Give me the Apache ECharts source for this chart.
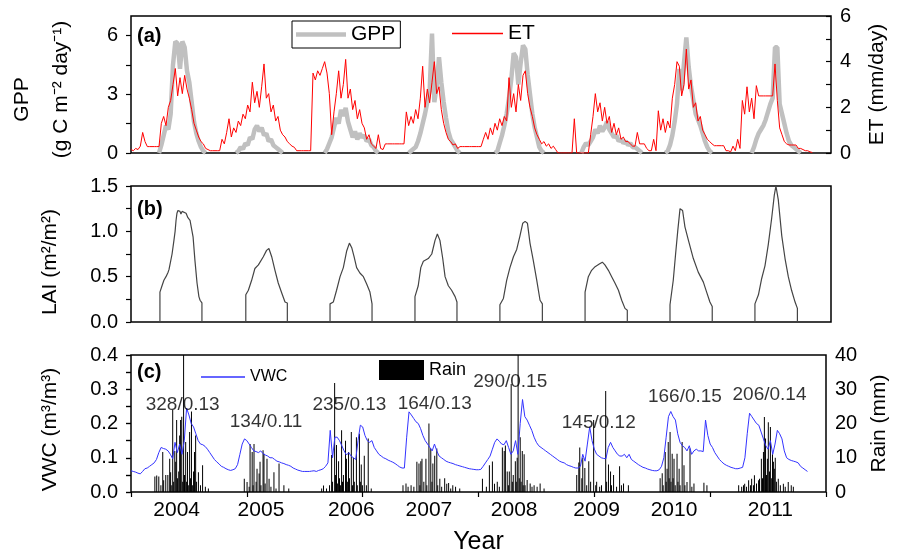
<!DOCTYPE html>
<html><head><meta charset="utf-8">
<script src="https://cdn.jsdelivr.net/npm/echarts@6.0.0/dist/echarts.min.js"></script>
<style>html,body{margin:0;padding:0;background:#fff}#c{width:898px;height:558px}</style>
</head><body><div id="c"></div>
<script>
// x unit: days since the start of the record (axis 0..3000)
const dayStep = 10;
const yearLabels = ['2004','2005','2006','2007','2008','2009','2010','2011'];
const yearLabelDays = [197, 561, 951, 1286, 1654, 2010, 2344, 2760];

// GPP (g C m-2 day-1), one value every 10 days
const gpp = [
null,null,null,null,null,null,null,null,null,null,
null,null,0,0.4,0.9,1.4,1.2,2.0,4.5,5.7,
5.6,4.3,5.7,5.4,4.2,3.6,2.6,1.6,1.0,0.6,
0.3,0.1,0,null,null,null,null,null,null,null,
null,null,null,null,null,0,0.1,0.3,0.2,0.5,
0.4,0.8,0.7,1.2,1.4,1.1,1.3,0.9,1.0,0.6,
0.7,0.4,0.3,0.2,0.1,0,null,null,null,null,
null,null,null,null,null,null,null,null,null,null,
null,null,null,0,0.2,0.5,0.8,1.3,1.8,1.5,
2.2,1.9,2.3,1.6,1.2,0.8,1.1,0.7,1.0,0.8,
0.9,0.6,0.7,0.4,0.3,0.1,0,null,null,null,
null,null,null,null,null,null,null,null,null,0,
0.1,0.2,0.3,0.6,1.0,1.5,2.0,2.6,3.2,6.1,
2.6,3.4,4.9,3.6,2.6,1.8,1.1,0.7,0.5,0.3,
0.1,0,null,null,null,null,null,null,null,null,
null,null,null,null,null,null,0,0.1,0.5,0.9,
1.4,2.0,2.8,3.8,5.1,4.9,3.5,4.6,5.5,5.3,
4.0,3.0,2.0,1.3,0.8,0.3,0.1,0,null,null,
null,null,null,null,null,null,null,null,null,null,
null,null,null,0,0.3,0.5,0.4,0.6,0.8,1.2,
1.0,1.4,1.1,1.3,1.6,1.2,1.0,0.8,0.9,0.6,
0.7,0.5,0.6,0.4,0.5,0.3,0.3,0.2,0.1,0,
null,null,null,null,null,null,null,null,null,0,
0.1,0.4,0.9,1.6,2.5,4.3,3.2,4.6,5.9,4.4,
3.4,2.7,2.0,1.7,1.4,1.0,0.6,0.3,0.1,0,
null,null,null,null,null,null,null,null,null,null,
null,null,null,null,null,null,0,0.3,0.7,1.0,
1.2,1.4,1.7,2.1,2.5,2.8,5.4,5.4,2.5,2.0,
1.5,1.0,0.6,0.4,0.3,0.2,0.1,0,null,null,
null,null,null,null,null,null,null,null,null,null,
null];

// ET (mm/day), one value every 10 days
const et = [
0.15,0.1,0.2,0.15,0.3,0.9,0.5,0.28,0.28,0.28,
0.28,0.28,0.28,1.3,1.6,1.2,2.0,2.3,3.0,3.7,
2.5,3.3,2.6,3.4,2.8,2.4,1.9,1.3,1.0,0.7,
0.5,0.4,0.2,0.15,0.1,0.1,0.1,0.1,0.1,0.6,
0.4,0.9,1.5,0.7,1.1,0.9,1.4,1.2,1.7,1.5,
2.1,1.8,3.1,2.2,2.7,2.0,2.9,3.9,2.4,2.6,
1.8,2.1,1.4,1.6,1.0,0.8,0.7,0.5,0.4,0.3,
0.25,0.1,0.1,0.1,0.1,0.1,0.1,0.1,3.5,3.2,
3.6,3.4,3.7,4.0,3.5,2.6,0.8,1.8,2.6,3.6,
2.4,3.0,4.1,2.4,2.8,1.9,2.3,1.5,1.9,1.3,
1.1,0.6,0.8,0.4,0.3,0.2,0.8,0.2,0.15,0.4,
0.4,0.4,0.4,0.4,0.4,0.4,0.4,0.4,1.8,1.2,
1.6,1.3,1.9,1.5,2.4,3.8,2.0,2.8,2.2,3.1,
4.0,2.6,2.9,1.9,1.3,0.9,0.6,0.5,0.35,0.4,
0.2,0.28,0.28,0.28,0.28,0.28,0.28,0.28,0.28,0.28,
0.28,0.6,0.9,0.6,1.1,0.8,1.3,1.0,1.5,1.2,
1.6,1.4,3.3,2.0,2.6,1.8,3.0,2.3,3.4,3.6,
2.6,2.0,1.6,1.1,0.8,0.6,0.4,0.5,0.3,0.4,
0.2,0.3,0.15,0,0,0,0,0,0,0,
1.5,0,0,0,0,0,0,0.8,1.6,2.6,
1.8,2.2,1.4,2.0,1.3,1.6,0.9,1.3,0.8,1.1,
0.6,0.7,0.5,0.5,0.4,0.3,0.3,0.9,0.4,0.4,
0.4,0.2,0.1,0.1,0.6,0.1,1.85,1.0,1.5,0.9,
1.4,1.1,2.4,3.0,4.0,3.8,2.5,3.0,4.55,2.8,
3.2,2.0,2.2,1.4,1.6,1.0,0.8,0.6,0.5,0.4,
0.32,0.32,0.32,0.32,0.32,0.1,0.1,0.05,0.3,0.1,
0.6,0.2,2.3,1.7,2.9,1.8,2.4,1.5,2.95,2.5,
2.5,2.5,2.5,2.5,2.5,2.5,3.9,2.3,1.1,0.8,
0.5,0.4,0.35,0.35,0.35,0.35,0.2,0.2,0.15,0.1,
0.1,0.05,0.02,null,null,null,null,null,null,null,
null];

// LAI (m2/m2): [day, value]
const lai = [
[124,0],[124,0.33],[133,0.4],[141,0.46],[150,0.5],[159,0.55],[163,0.58],[167,0.6],[176,0.75],[184,0.9],[189,1.0],[193,1.12],[197,1.2],[201,1.23],[206,1.22],[210,1.22],[214,1.19],[219,1.22],[227,1.23],[236,1.2],[244,1.15],[253,1.12],[266,0.94],[274,0.68],[283,0.43],[291,0.28],[296,0.24],[304,0.21],[304,0],
[492,0],[492,0.3],[503,0.35],[517,0.46],[531,0.59],[546,0.63],[567,0.72],[581,0.79],[591,0.81],[603,0.72],[617,0.57],[631,0.43],[646,0.32],[660,0.22],[670,0.21],[670,0],
[853,0],[853,0.2],[867,0.22],[881,0.35],[896,0.5],[910,0.6],[924,0.78],[936,0.87],[946,0.82],[956,0.72],[967,0.6],[981,0.54],[996,0.5],[1010,0.42],[1024,0.33],[1033,0.2],[1033,0],
[1217,0],[1217,0.28],[1231,0.4],[1242,0.6],[1253,0.67],[1274,0.7],[1289,0.75],[1303,0.9],[1313,0.97],[1324,0.9],[1336,0.7],[1346,0.5],[1360,0.4],[1374,0.35],[1389,0.28],[1397,0.22],[1397,0],
[1581,0],[1581,0.19],[1596,0.26],[1610,0.46],[1624,0.6],[1639,0.72],[1653,0.8],[1667,0.95],[1679,1.09],[1689,1.11],[1699,1.09],[1710,0.87],[1724,0.68],[1739,0.46],[1753,0.24],[1763,0.2],[1763,0],
[1946,0],[1946,0.33],[1960,0.5],[1974,0.57],[1989,0.61],[2007,0.64],[2020,0.66],[2031,0.63],[2046,0.57],[2060,0.5],[2074,0.43],[2089,0.35],[2103,0.24],[2117,0.15],[2127,0.13],[2127,0],
[2310,0],[2310,0.19],[2324,0.46],[2334,0.75],[2343,1.0],[2353,1.25],[2364,1.23],[2374,1.05],[2389,0.9],[2410,0.7],[2431,0.55],[2453,0.44],[2467,0.33],[2481,0.22],[2491,0.17],[2491,0],
[2674,0],[2674,0.2],[2689,0.3],[2703,0.48],[2717,0.62],[2731,0.85],[2746,1.15],[2757,1.4],[2764,1.5],[2774,1.35],[2789,0.95],[2803,0.7],[2817,0.5],[2831,0.35],[2846,0.22],[2856,0.15],[2856,0]
];

// VWC (m3/m3), one value every 10 days
const vwc = [
0.062,0.06,0.058,0.055,0.053,0.06,0.068,0.07,0.075,0.08,
0.085,0.095,0.115,0.13,0.127,0.125,0.12,0.11,0.097,0.145,
0.115,0.14,0.11,0.15,0.245,0.225,0.2,0.19,0.17,0.15,
0.14,0.138,0.133,0.125,0.115,0.105,0.095,0.088,0.082,0.075,
0.072,0.068,0.065,0.063,0.065,0.068,0.08,0.11,0.14,0.155,
0.15,0.14,0.13,0.12,0.118,0.115,0.12,0.112,0.108,0.105,
0.1,0.1,0.095,0.09,0.088,0.085,0.083,0.08,0.078,0.075,
0.07,0.067,0.064,0.062,0.06,0.06,0.06,0.06,0.061,0.062,
0.06,0.063,0.065,0.068,0.075,0.085,0.18,0.1,0.16,0.16,
0.15,0.135,0.12,0.108,0.115,0.105,0.1,0.095,0.15,0.195,
0.19,0.165,0.15,0.145,0.15,0.13,0.12,0.11,0.105,0.1,
0.097,0.093,0.09,0.087,0.083,0.078,0.073,0.07,0.07,0.16,
0.234,0.225,0.215,0.205,0.2,0.185,0.165,0.15,0.14,0.13,
0.12,0.14,0.12,0.105,0.1,0.095,0.09,0.087,0.085,0.083,
0.08,0.078,0.076,0.074,0.072,0.07,0.068,0.067,0.066,0.065,
0.065,0.066,0.075,0.085,0.095,0.105,0.125,0.145,0.155,0.148,
0.14,0.138,0.15,0.13,0.11,0.12,0.15,0.11,0.2,0.27,
0.22,0.21,0.195,0.18,0.16,0.145,0.135,0.13,0.125,0.12,
0.115,0.11,0.105,0.1,0.095,0.09,0.087,0.085,0.08,0.077,
0.075,0.072,0.07,0.07,0.075,0.11,0.09,0.14,0.19,0.15,
0.125,0.11,0.105,0.1,0.098,0.097,0.13,0.145,0.13,0.12,
0.11,0.105,0.105,0.11,0.1,0.11,0.095,0.09,0.085,0.08,
0.076,0.072,0.07,0.067,0.065,0.063,0.062,0.062,0.065,0.075,
0.1,0.16,0.22,0.235,0.22,0.21,0.17,0.145,0.135,0.13,
0.12,0.135,0.11,0.12,0.125,0.12,0.12,0.118,0.21,0.165,
0.14,0.13,0.115,0.105,0.095,0.088,0.082,0.078,0.075,0.072,
0.07,0.068,0.068,0.07,0.072,0.1,0.17,0.23,0.22,0.21,
0.2,0.195,0.175,0.155,0.135,0.125,0.15,0.11,0.14,0.18,
0.17,0.155,0.12,0.1,0.095,0.092,0.09,0.088,0.085,0.075,
0.07,0.065,0.06,null,null,null,null,null,null,null,
null];

// Rain (mm): [day, mm]
const rain = [
[103,4.5],[111,4.8],[120,4.5],[129,2],[137,11.7],[141,3.4],[150,5],[159,5],[167,9.7],[171,5.8],[176,2],[180,24],[184,3],[189,12],[193,8.8],[197,21],[201,4],[206,6],[210,16.5],[214,21],[219,22],[223,3],[227,42],[231,5],[236,14.6],[240,3],[244,11.7],[249,2],[253,17.5],[257,4],[261,23.5],[266,2],[270,6],[274,11.7],[279,16.5],[283,3],[291,5.8],[300,2],[309,7.8],[321,1.5],[334,1],
[489,3.9],[501,2.9],[510,1.5],[514,14],[523,11.7],[527,2],[531,14],[540,3],[544,6.8],[553,5.4],[557,8.8],[561,2],[570,12.2],[574,11.2],[579,2.5],[587,9.7],[596,3.9],[604,1.5],[617,5.8],[626,1],[639,8.3],[660,2],[681,1],
[823,1],[831,1.9],[844,1],[857,2],[866,10.8],[870,3],[879,31.8],[883,5],[887,13.7],[891,2.5],[896,9],[900,4],[904,2],[909,18],[913,3],[917,5],[926,15],[930,9.7],[934,3],[939,11.7],[943,4],[951,17.5],[956,2],[960,10],[964,3],[973,16],[977,2],[986,17],[990,3],[994,8],[999,2],[1007,10.6],[1016,2],[1024,15.6],[1037,1],
[1174,2],[1187,2.5],[1196,1.5],[1209,2],[1221,1.5],[1234,8.8],[1243,8.3],[1247,2],[1251,9],[1256,9.7],[1264,3],[1273,9.7],[1277,2],[1286,20],[1294,12.7],[1299,3],[1303,8.3],[1311,10.6],[1320,12.7],[1324,2],[1333,3.9],[1341,1.5],[1354,4],[1363,2.4],[1371,2.6],[1380,1],[1389,2],[1401,1.5],[1419,1],
[1517,3.9],[1534,1.5],[1547,7.8],[1560,8.9],[1569,2.4],[1581,3],[1590,1.5],[1603,13],[1611,12],[1616,13.6],[1624,6],[1629,2],[1633,6],[1641,31.5],[1646,3],[1650,5],[1659,9],[1663,3],[1667,10],[1671,42],[1676,4],[1680,16],[1684,3],[1689,12],[1693,2],[1697,11],[1701,2],[1710,3.5],[1723,2.5],[1731,1.5],[1740,2],[1753,1.5],[1766,2.5],[1783,1],
[1924,5],[1933,8.6],[1937,13],[1946,4],[1950,10],[1959,7],[1967,2],[1976,9],[1984,3],[1997,21],[2006,2],[2010,3],[2023,1.5],[2031,2],[2049,29.5],[2053,3],[2061,8],[2070,6],[2074,2],[2083,5],[2096,1.5],[2109,7.5],[2117,2],[2126,2.5],[2147,2],
[2284,4],[2293,5.5],[2297,2],[2306,11.7],[2310,3],[2314,6.8],[2319,14.6],[2323,4],[2327,17.5],[2331,3],[2336,11.2],[2340,4],[2344,9.7],[2349,2],[2357,11.2],[2361,3],[2366,6.8],[2370,2],[2379,14.6],[2387,7.8],[2391,2],[2400,2.9],[2413,12.7],[2421,1.5],[2430,2.5],[2473,2.7],[2486,2],
[2623,2],[2636,1.5],[2644,2],[2649,2.4],[2657,1.5],[2666,3.4],[2674,2],[2679,3.9],[2687,2],[2691,4.9],[2700,2.5],[2709,3.4],[2713,3.9],[2721,9.7],[2726,4],[2730,11.7],[2734,21.9],[2739,15.6],[2743,5],[2747,9.7],[2751,20.4],[2756,6],[2760,19],[2764,4],[2769,11],[2773,8.8],[2777,6.8],[2781,10],[2786,3],[2794,3.9],[2803,2],[2816,2.4],[2824,1.5],[2837,2.9],[2850,2],[2859,1.5]
];

// Seasonal annotations (rain / mean VWC): [day, vwc-level, text]
const notes = [
[223,0.254,'328/0.13'],[583,0.204,'134/0.11'],[943,0.254,'235/0.13'],[1311,0.257,'164/0.13'],
[1637,0.321,'290/0.15'],[2019,0.201,'145/0.12'],[2391,0.277,'166/0.15'],[2756,0.283,'206/0.14']
];

const FONT = 'Liberation Sans, Arial, Helvetica, sans-serif';
const pairs = arr => arr.map((v, i) => [i * dayStep, v === null ? '-' : v]);
const txt = {color: '#000', fontFamily: FONT};

const grids = [
  {left: 131, right: 67, top: 16, height: 137},
  {left: 131, right: 67, top: 186, height: 136},
  {left: 131, right: 67, top: 355, height: 137}
].map(g => Object.assign({show: true, borderColor: '#000', borderWidth: 1.5, backgroundColor: 'transparent'}, g));

const baseX = gi => ({
  type: 'value', gridIndex: gi, min: 0, max: 3000,
  axisLine: {show: false}, axisTick: {show: false}, axisLabel: {show: false}, splitLine: {show: false}
});

const leftY = (gi, min, max, ticks, labels, fmt, name, gap, rich) => ({
  type: 'value', gridIndex: gi, position: 'left', min, max,
  axisLine: {show: false}, splitLine: {show: false},
  axisTick: {show: true, inside: false, length: 5, customValues: ticks, lineStyle: {color: '#000', width: 1.2}},
  axisLabel: {customValues: labels, formatter: fmt, fontSize: 20, margin: 13, ...txt},
  name, nameLocation: 'middle', nameGap: gap, nameRotate: 90,
  nameTextStyle: Object.assign({fontSize: 21, ...txt}, rich || {})
});
const rightY = (gi, min, max, ticks, labels, name, gap) => ({
  type: 'value', gridIndex: gi, position: 'right', min, max,
  axisLine: {show: false}, splitLine: {show: false},
  axisTick: {show: true, inside: true, length: 5, customValues: ticks, lineStyle: {color: '#000', width: 1.2}},
  axisLabel: {customValues: labels, fontSize: 20, margin: 9, ...txt},
  name, nameLocation: 'middle', nameGap: gap, nameRotate: 90,
  nameTextStyle: {fontSize: 21, ...txt}
});

const option = {
  animation: false,
  backgroundColor: '#fff',
  textStyle: {fontFamily: FONT},
  title: [
    {text: '(a)', left: 137, top: 26, padding: 0, textStyle: {fontSize: 20, fontWeight: 'bold', ...txt}},
    {text: '(b)', left: 137, top: 199, padding: 0, textStyle: {fontSize: 20, fontWeight: 'bold', ...txt}},
    {text: '(c)', left: 137, top: 362, padding: 0, textStyle: {fontSize: 20, fontWeight: 'bold', ...txt}}
  ],
  legend: [
    {data: [{name: 'GPP', icon: 'rect', itemStyle: {color: '#c0c0c0', borderWidth: 0}}], left: 292, top: 21,
     padding: [3, 5, 3, 4], borderColor: '#000', borderWidth: 1,
     itemWidth: 50, itemHeight: 4.5, selectedMode: false, textStyle: {fontSize: 21, lineHeight: 21, ...txt}},
    {data: [{name: 'ET', icon: 'rect', itemStyle: {color: '#ff0000', borderWidth: 0}}], left: 452, top: 23, padding: 0,
     itemWidth: 51, itemHeight: 1.5, selectedMode: false, textStyle: {fontSize: 21, lineHeight: 21, ...txt}},
    {data: [{name: 'VWC', icon: 'rect', itemStyle: {color: '#3333ff', borderWidth: 0}}], left: 201, top: 369, padding: 0,
     itemWidth: 44, itemHeight: 1.5, selectedMode: false, textStyle: {fontSize: 16, lineHeight: 16, ...txt}},
    {data: [{name: 'Rain', icon: 'rect', itemStyle: {color: '#000', borderWidth: 0}}], left: 379, top: 360, padding: 0,
     itemWidth: 45, itemHeight: 20, selectedMode: false, textStyle: {fontSize: 18, ...txt}}
  ],
  grid: grids,
  xAxis: [
    baseX(0), baseX(1),
    Object.assign(baseX(2), {
      axisLabel: {show: true, customValues: yearLabelDays, margin: 8, fontSize: 21, ...txt,
        formatter: v => yearLabels[yearLabelDays.indexOf(v)] || ''},
      name: 'Year', nameLocation: 'middle', nameGap: 38, nameTextStyle: {fontSize: 25, ...txt}
    }),
    Object.assign(baseX(2), {position: 'top', interval: 500,
      axisTick: {show: true, inside: true, length: 5, lineStyle: {color: '#000', width: 1.2}}})
  ],
  yAxis: [
    leftY(0, 0, 7, [0, 1.5, 3, 4.5, 6], [0, 3, 6], v => String(v),
      '{g|GPP}\n{u|(g C m⁻² day⁻¹)}', 50,
      {rich: {g: {fontSize: 21, padding: [0, 30, 0, 0], lineHeight: 39, ...txt},
              u: {fontSize: 21, padding: [0, 10, 0, 0], lineHeight: 39, ...txt}}}),
    rightY(0, 0, 6, [0, 1, 2, 3, 4, 5, 6], [0, 2, 4, 6], 'ET (mm/day)', 36),
    leftY(1, 0, 1.5, [0, 0.25, 0.5, 0.75, 1, 1.25, 1.5], [0, 0.5, 1, 1.5], v => v.toFixed(1),
      'LAI (m²/m²)', 70, {padding: [0, 16, 0, 0]}),
    leftY(2, 0, 0.4, [0, 0.05, 0.1, 0.15, 0.2, 0.25, 0.3, 0.35, 0.4], [0, 0.1, 0.2, 0.3, 0.4], v => v.toFixed(1),
      'VWC (m³/m³)', 70, {padding: [0, 12, 0, 0]}),
    rightY(2, 0, 40, [0, 5, 10, 15, 20, 25, 30, 35, 40], [0, 10, 20, 30, 40], 'Rain (mm)', 43)
  ],
  series: [
    {name: 'GPP', type: 'line', xAxisIndex: 0, yAxisIndex: 0, data: pairs(gpp), symbol: 'none',
     lineStyle: {color: '#c0c0c0', width: 4.5}, itemStyle: {color: '#c0c0c0'}, z: 2},
    {name: 'ET', type: 'line', xAxisIndex: 0, yAxisIndex: 1, data: pairs(et), symbol: 'none',
     lineStyle: {color: '#ff0000', width: 1}, itemStyle: {color: '#ff0000'}, z: 3},
    {name: 'LAI', type: 'line', xAxisIndex: 1, yAxisIndex: 2, data: lai, symbol: 'none',
     lineStyle: {color: '#444', width: 1.2}, z: 3},
    {name: 'Rain', type: 'bar', xAxisIndex: 2, yAxisIndex: 4, data: rain, barWidth: 1,
     itemStyle: {color: '#000'}, z: 2},
    {name: 'VWC', type: 'line', xAxisIndex: 2, yAxisIndex: 3, data: pairs(vwc), symbol: 'none',
     lineStyle: {color: '#3333ff', width: 1}, itemStyle: {color: '#3333ff'}, z: 3},
    {name: 'notes', type: 'scatter', xAxisIndex: 2, yAxisIndex: 3, symbolSize: 1, silent: true,
     itemStyle: {color: 'rgba(0,0,0,0)'},
     data: notes.map(n => ({value: [n[0], n[1]], name: n[2]})),
     label: {show: true, position: 'inside', formatter: '{b}', fontSize: 19, textBorderWidth: 0, ...txt}, z: 5}
  ]
};

const chart = echarts.init(document.getElementById('c'), null, {renderer: 'canvas'});
chart.setOption(option);
</script>
</body></html>
